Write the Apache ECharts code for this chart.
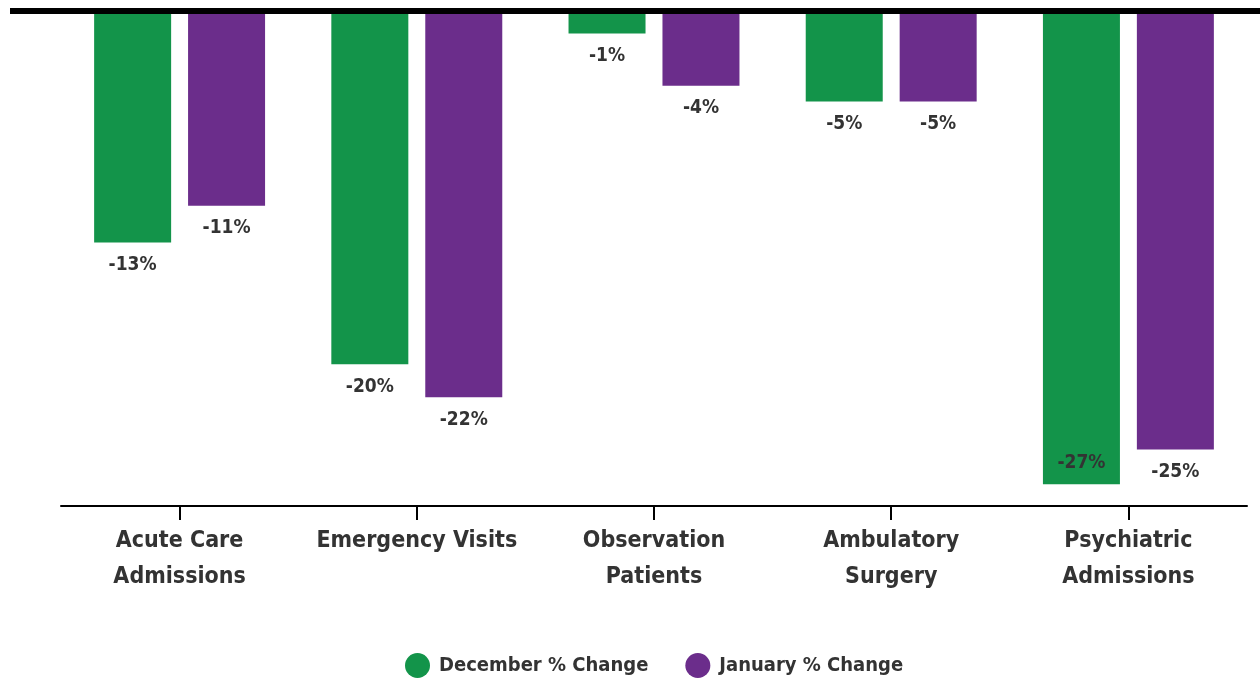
<!DOCTYPE html>
<html><head><meta charset="utf-8">
<script src="https://cdn.jsdelivr.net/npm/echarts@6/dist/echarts.min.js"></script>
<style>html,body{margin:0;padding:0;background:#fff}#c{width:1260px;height:682px}</style>
</head><body><div id="c"></div>
<script>
const categories = ['Acute Care\nAdmissions','Emergency Visits','Observation\nPatients','Ambulatory\nSurgery','Psychiatric\nAdmissions'];
const decemberChange = [-13.3, -20.3, -1.3, -5.2, -27.2];
const januaryChange = [-11.2, -22.2, -4.3, -5.2, -25.2];
const seriesNames = ['December % Change','January % Change'];
const FONT = '"DejaVu Sans Condensed","Liberation Sans Narrow",sans-serif';
const chart = echarts.init(document.getElementById('c'));
function mk(vals){
  return vals.map(v => v < -27 ? {value:v, label:{position:'insideBottom', distance:12}} : v);
}
const lbl = {show:true, position:'bottom', distance:13, color:'#333', fontFamily:FONT, fontWeight:'bold', fontSize:19,
  formatter: p => Math.round(p.value) + '%'};
chart.setOption({
  animation:false,
  grid:{left:61, right:13, top:11, bottom:176},
  legend:{top:648, left:400, icon:'circle', itemWidth:25, itemHeight:25, itemGap:37,
    textStyle:{fontFamily:FONT, fontWeight:'bold', fontSize:20, color:'#333', padding:[0,0,0,4]}},
  xAxis:{type:'category', data:categories, position:'bottom',
    axisLine:{onZero:false, lineStyle:{color:'#000', width:2}},
    axisTick:{show:true, alignWithLabel:true, length:14, lineStyle:{color:'#000', width:2}},
    axisLabel:{interval:0, fontFamily:FONT, fontWeight:'bold', fontSize:23, color:'#333', lineHeight:36, margin:17}},
  yAxis:{type:'value', min:-28.45, max:0, show:false, splitLine:{show:false}},
  series:[
    {name:seriesNames[0], type:'bar', data:mk(decemberChange), barWidth:77, barGap:'22%', itemStyle:{color:'#13944A'}, label:lbl},
    {name:seriesNames[1], type:'bar', data:mk(januaryChange), barWidth:77, itemStyle:{color:'#6B2D8B'}, label:lbl}
  ],
  graphic:[{type:'rect', shape:{x:10, y:8, width:1250, height:6}, style:{fill:'#000'}, z:100}]
});
</script></body></html>
